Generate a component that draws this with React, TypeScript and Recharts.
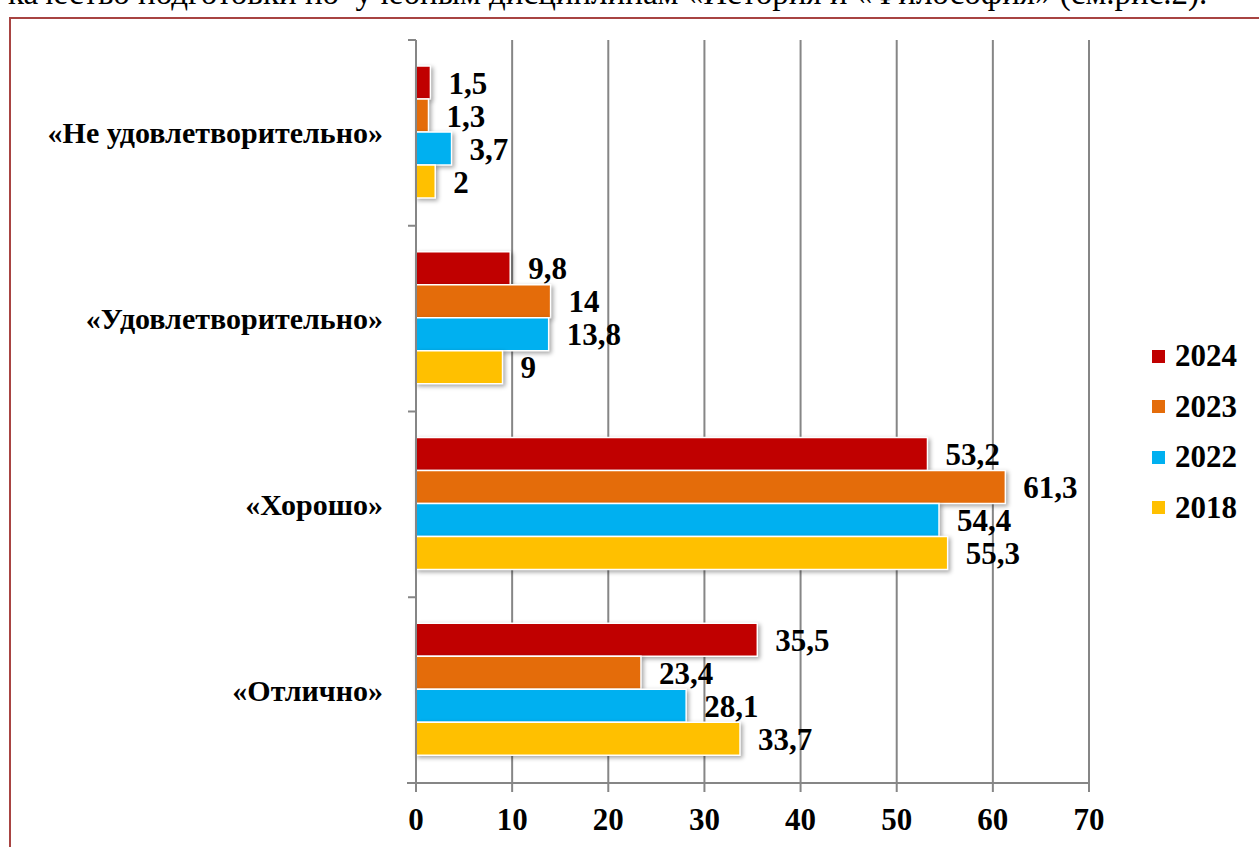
import React from "react";
import {
  BarChart,
  Bar,
  XAxis,
  YAxis,
  CartesianGrid,
  LabelList,
} from "recharts";

const categories = [
  "«Не удовлетворительно»",
  "«Удовлетворительно»",
  "«Хорошо»",
  "«Отлично»",
];
const v2024 = [1.5, 9.8, 53.2, 35.5];
const v2023 = [1.3, 14, 61.3, 23.4];
const v2022 = [3.7, 13.8, 54.4, 28.1];
const v2018 = [2, 9, 55.3, 33.7];
const xTicks = [0, 10, 20, 30, 40, 50, 60, 70];

const series = [
  { key: "y2024", name: "2024", color: "#C00000" },
  { key: "y2023", name: "2023", color: "#E46C0A" },
  { key: "y2022", name: "2022", color: "#00B0F0" },
  { key: "y2018", name: "2018", color: "#FFC000" },
];

const data = categories.map((name, i) => ({
  name,
  y2024: v2024[i],
  y2023: v2023[i],
  y2022: v2022[i],
  y2018: v2018[i],
}));

const FONT = "'Liberation Serif', serif";
const AXIS = "#868686";
const W = 1259;
const H = 847;
const M = { top: 40, right: 170, bottom: 14, left: 16 };
const X_AXIS_H = 50;
const halfBand = (H - M.top - M.bottom - X_AXIS_H) / categories.length / 2;

const fmt = (v: any) => String(v).replace(".", ",");

const CategoryTick = (props: any) => {
  const { x, y, payload, index } = props;
  const last = index === categories.length - 1;
  return (
    <g>
      <line x1={x - 8} x2={x} y1={y - halfBand} y2={y - halfBand} stroke={AXIS} strokeWidth={2} />
      {last && (
        <line x1={x - 9} x2={x} y1={y + halfBand} y2={y + halfBand} stroke={AXIS} strokeWidth={2} />
      )}
      <text
        x={x - 33}
        y={y}
        dy="0.35em"
        textAnchor="end"
        fontFamily={FONT}
        fontWeight={700}
        fontSize={30}
        fill="#000"
      >
        {payload.value}
      </text>
    </g>
  );
};

const ShadowBar = (props: any) => {
  const { x, y, width, height, fill } = props;
  if (!width || width <= 0) return null;
  return (
    <rect
      x={x}
      y={y}
      width={width}
      height={height}
      fill={fill}
      stroke="#fff"
      strokeWidth={1.5}
      style={{ filter: "drop-shadow(2px 2px 2px rgba(0,0,0,0.35))" }}
    />
  );
};

export default function App() {
  return (
    <div
      style={{
        position: "fixed",
        left: 0,
        top: 0,
        width: W,
        height: H,
        overflow: "hidden",
        background: "#fff",
      }}
    >
      <div
        style={{
          position: "absolute",
          left: 8,
          top: -25,
          fontFamily: FONT,
          fontSize: 33,
          whiteSpace: "nowrap",
          color: "#000",
        }}
      >
        качество подготовки по&nbsp; учебным дисциплинам «История и «Философия» (см.рис.2).
      </div>
      <div
        style={{
          position: "absolute",
          left: 9,
          top: 17,
          width: 1400,
          height: 1000,
          border: "2px solid #A84442",
        }}
      />
      <div style={{ position: "absolute", left: 0, top: 0 }}>
        <BarChart
          width={W}
          height={H}
          data={data}
          layout="vertical"
          margin={M}
          barCategoryGap="14%"
          barGap={0}
        >
          <CartesianGrid horizontal={false} stroke={AXIS} strokeWidth={2} />
          <XAxis
            type="number"
            domain={[0, 70]}
            ticks={xTicks}
            interval={0}
            height={X_AXIS_H}
            axisLine={{ stroke: AXIS, strokeWidth: 2 }}
            tickLine={{ stroke: AXIS, strokeWidth: 2 }}
            tickSize={9}
            tickMargin={16}
            tick={{ fontSize: 31, fontWeight: 700, fill: "#000", fontFamily: FONT }}
          />
          <YAxis
            type="category"
            dataKey="name"
            width={400}
            axisLine={{ stroke: AXIS, strokeWidth: 2 }}
            tickLine={false}
            tickSize={0}
            tickMargin={0}
            interval={0}
            tick={<CategoryTick />}
          />
          {series.map((s) => (
            <Bar
              key={s.key}
              dataKey={s.key}
              name={s.name}
              fill={s.color}
              shape={<ShadowBar />}
              isAnimationActive={false}
            >
              <LabelList
                dataKey={s.key}
                position="right"
                offset={18}
                formatter={fmt}
                fill="#000"
                fontSize={31}
                fontWeight={700}
                fontFamily={FONT}
              />
            </Bar>
          ))}
        </BarChart>
      </div>
      <div
        style={{
          position: "absolute",
          left: 1152,
          top: 331,
          fontFamily: FONT,
          fontWeight: 700,
          fontSize: 31,
        }}
      >
        {series.map((s) => (
          <div key={s.key} style={{ display: "flex", alignItems: "center", height: 50.5 }}>
            <span
              style={{
                width: 13,
                height: 13,
                background: s.color,
                marginRight: 10,
                display: "inline-block",
              }}
            />
            <span>{s.name}</span>
          </div>
        ))}
      </div>
    </div>
  );
}
